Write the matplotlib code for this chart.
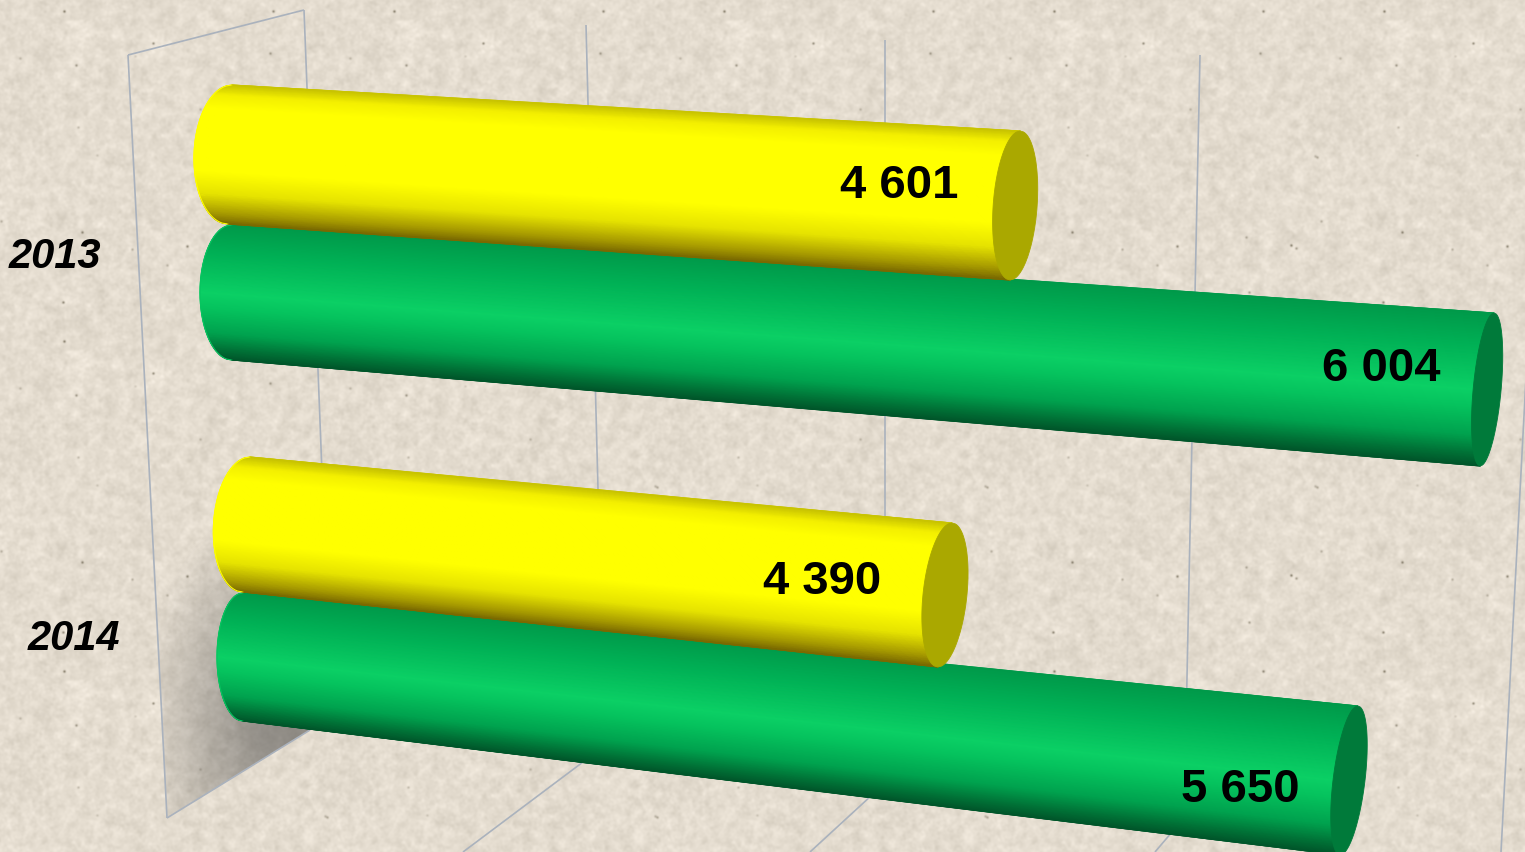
import numpy as np
import matplotlib
matplotlib.use("Agg")
import matplotlib.pyplot as plt
from matplotlib.colors import LinearSegmentedColormap
from matplotlib.patches import Polygon

OUTPUT_FILE = "out.png"
W, H = 1525, 852

years = ["2013", "2014"]
yellow_values = [4601, 4390]
green_values = [6004, 5650]
value_labels = {4601: "4 601", 6004: "6 004", 4390: "4 390", 5650: "5 650"}

YELLOW = LinearSegmentedColormap.from_list("y", [
    (0.0, "#c9c400"), (0.07, "#f4f000"), (0.16, "#ffff00"), (0.62, "#ffff00"),
    (0.78, "#e6e300"), (0.92, "#a89c00"), (1.0, "#7a6a00")])
GREEN = LinearSegmentedColormap.from_list("g", [
    (0.0, "#009a4a"), (0.2, "#00b055"), (0.5, "#0bd065"), (0.62, "#05c25d"),
    (0.8, "#00a24e"), (0.93, "#006f35"), (1.0, "#00562a")])
CAP_YELLOW = "#aaa800"
CAP_GREEN = "#007a3a"
GRID = "#aab2bd"

# perspective of each bar: edge starts in pixels, pixels per unit along each edge,
# half width of the rounded start and of the flat end cap
GEOM = {
    "y0": dict(top=(232, 85), bot=(228, 224), top_v=(0.1713, 0.0100), bot_v=(0.1700, 0.01217), a0=36, a1=22),
    "g0": dict(top=(232, 225), bot=(232, 360), top_v=(0.2102, 0.01466), bot_v=(0.2079, 0.01765), a0=32, a1=14),
    "y1": dict(top=(250, 457), bot=(243, 592), top_v=(0.1599, 0.01503), bot_v=(0.1583, 0.01708), a0=33, a1=22),
    "g1": dict(top=(243, 593), bot=(243, 721), top_v=(0.1973, 0.0200), bot_v=(0.1942, 0.02372), a0=26, a1=16),
}

GRID_LINES = [
    [(128, 55), (304, 10)], [(128, 55), (167, 818)], [(167, 818), (310, 730)],
    [(304, 10), (332, 730)], [(586, 25), (605, 760)], [(885, 40), (885, 795)],
    [(1200, 55), (1186, 725)], [(1528, 340), (1501, 852)],
    [(583, 762), (463, 852)], [(872, 795), (810, 852)], [(1172, 832), (1155, 852)],
]


def smooth(a, sigma):
    # wrap-around gaussian blur, keeps the tile seamless
    fy = np.fft.fftfreq(a.shape[0])[:, None]
    fx = np.fft.fftfreq(a.shape[1])[None, :]
    return np.fft.ifft2(np.fft.fft2(a) * np.exp(-2 * (np.pi * sigma) ** 2 * (fx ** 2 + fy ** 2))).real


def paper_texture():
    rng = np.random.default_rng(4)
    tile = 330
    n = smooth(rng.normal(size=(tile, tile)), 1.2)
    n = n / n.std() * 2.5
    m = smooth(rng.normal(size=(tile, tile)), 3.0)
    n += m / m.std() * 3.5
    # dark pin pricks with a pale halo, of uneven strength
    dots = np.zeros((tile, tile))
    dots[rng.integers(0, tile, 22), rng.integers(0, tile, 22)] = rng.uniform(0.2, 1.0, 22)
    n += -smooth(dots, 1.0) * 560 + smooth(dots, 4.0) * 500
    n = np.tile(n, (3, 5))[:H, :W]
    base = np.array([228, 220, 207], float)
    img = np.clip(base[None, None, :] + n[:, :, None] * np.array([1, 1, 1.05]), 0, 255)
    return img.astype(np.uint8)


def draw_cylinder(ax, value, g, cmap, cap):
    top0, bot0 = np.array(g["top"], float), np.array(g["bot"], float)
    top1 = top0 + value * np.array(g["top_v"])
    bot1 = bot0 + value * np.array(g["bot_v"])

    t = np.linspace(0, 1, 160)
    bulge = np.sqrt(np.clip(1 - (2 * t - 1) ** 2, 0, 1))[:, None]
    side = np.array([1.0, 0.0])
    # outline of both ends, left half of each ellipse
    p0 = top0 + (bot0 - top0) * t[:, None] - g["a0"] * bulge * side
    p1 = top1 + (bot1 - top1) * t[:, None] - g["a1"] * bulge * side

    X = np.column_stack([p0[:, 0], p1[:, 0]])
    Y = np.column_stack([p0[:, 1], p1[:, 1]])
    C = np.column_stack([t, t])
    ax.pcolormesh(X, Y, C, cmap=cmap, vmin=0, vmax=1, shading="gouraud", zorder=3)
    ax.plot(p0[:, 0], p0[:, 1], color=cmap(0.4), lw=0.8, zorder=3)
    ax.plot([top0[0], top1[0]], [top0[1], top1[1]], color=cmap(0.0), lw=0.8, zorder=3)
    ax.plot([bot0[0], bot1[0]], [bot0[1], bot1[1]], color=cmap(1.0), lw=0.8, zorder=3)

    # flat end cap
    p1_right = top1 + (bot1 - top1) * t[:, None] + g["a1"] * bulge * side
    ax.add_patch(Polygon(np.vstack([p1, p1_right[::-1]]), closed=True, facecolor=cap,
                         edgecolor=cap, lw=0.6, zorder=4))


def main():
    fig = plt.figure(figsize=(W / 100, H / 100), dpi=100)
    ax = fig.add_axes([0, 0, 1, 1])
    ax.set_xlim(0, W)
    ax.set_ylim(H, 0)
    ax.axis("off")
    ax.imshow(paper_texture(), extent=(0, W, H, 0), aspect="auto", zorder=0, interpolation="bilinear")

    # shadow the bars throw on the back wall
    yy, xx = np.mgrid[0:H, 0:W]
    dist = np.hypot((xx - 285) / 125.0, (yy - 720) / 190.0)
    alpha = np.clip(1.2 - dist, 0, 1) * 0.5
    shade = np.zeros((H, W, 4))
    shade[..., :3] = 0.25
    shade[..., 3] = alpha
    im = ax.imshow(shade, extent=(0, W, H, 0), aspect="auto", zorder=1)
    wall = Polygon([(128, 55), (304, 10), (332, 720), (310, 730), (167, 818)], closed=True,
                   transform=ax.transData)
    im.set_clip_path(wall)

    for seg in GRID_LINES:
        ax.plot(*zip(*seg), color=GRID, lw=1.2, zorder=2, solid_capstyle="butt")
    ax.set_xlim(0, W)
    ax.set_ylim(H, 0)

    # back bar first so the yellow one sits on top of it
    for i in range(len(years)):
        draw_cylinder(ax, green_values[i], GEOM[f"g{i}"], GREEN, CAP_GREEN)
        draw_cylinder(ax, yellow_values[i], GEOM[f"y{i}"], YELLOW, CAP_YELLOW)

    txt = dict(family="Liberation Sans", fontweight="bold", color="black", zorder=5,
               ha="center", va="center")
    year_pos = [(55, 257), (74, 639)]
    for year, pos in zip(years, year_pos):
        ax.text(pos[0], pos[1], year, fontsize=30, fontstyle="italic", **txt)

    label_pos = [(899, 186), (1381, 369), (822, 582), (1240, 790)]
    values = [yellow_values[0], green_values[0], yellow_values[1], green_values[1]]
    for v, pos in zip(values, label_pos):
        ax.text(pos[0], pos[1], value_labels[v], fontsize=34, **txt)

    fig.savefig(OUTPUT_FILE, dpi=100)


if __name__ == "__main__":
    main()
